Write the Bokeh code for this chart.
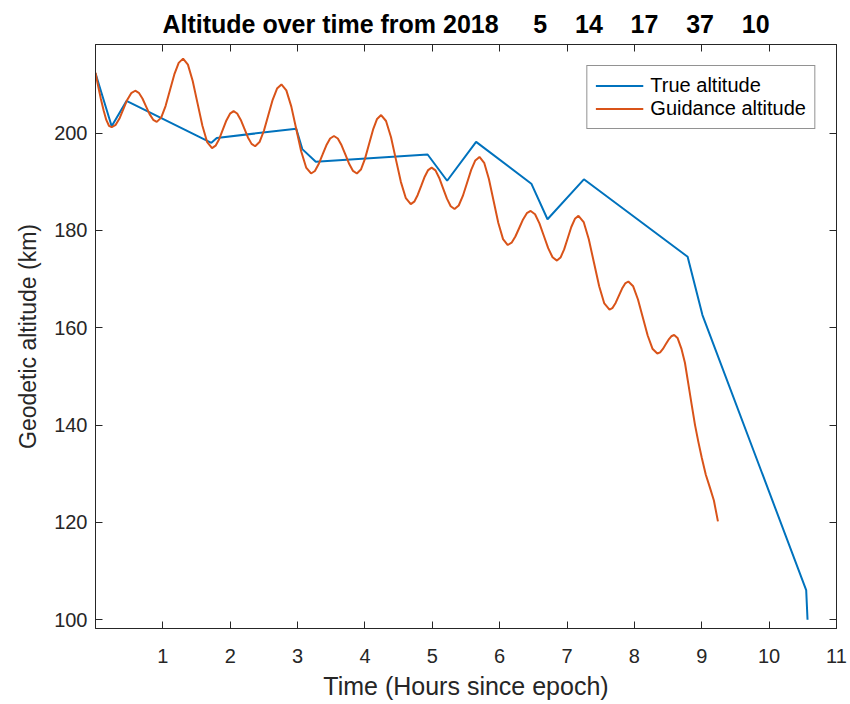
from bokeh.plotting import figure
from bokeh.models import (Range1d, LinearAxis, FixedTicker, Legend, LegendItem, Title)
from bokeh.embed import file_html
from bokeh.resources import INLINE

# ---------------- data ----------------
true_t = [0.00, 0.24, 0.46, 1.72, 1.80, 2.98, 3.07, 3.27, 4.93, 5.22, 5.65,
          6.47, 6.71, 7.25, 8.79, 9.01, 10.55, 10.57]
true_alt = [212.3, 201.4, 206.6, 198.0, 199.0, 200.9, 196.7, 194.1, 195.6, 190.2, 198.2,
            189.6, 182.3, 190.5, 174.6, 162.6, 106.1, 100.0]

guid_t = [0.00, 0.04, 0.08, 0.12, 0.16, 0.20, 0.24,
          0.30, 0.36, 0.415, 0.47, 0.53, 0.59,
          0.643, 0.697, 0.75, 0.803, 0.857, 0.91,
          0.975, 1.04, 1.105, 1.17, 1.235, 1.30,
          1.372, 1.443, 1.515, 1.587, 1.658, 1.73,
          1.783, 1.837, 1.89, 1.943, 1.997, 2.05,
          2.103, 2.157, 2.21, 2.263, 2.317, 2.37,
          2.435, 2.50, 2.565, 2.63, 2.695, 2.76,
          2.833, 2.907, 2.98, 3.053, 3.127, 3.20,
          3.257, 3.313, 3.37, 3.427, 3.483, 3.54,
          3.597, 3.653, 3.71, 3.767, 3.823, 3.88,
          3.94, 4.00, 4.06, 4.12, 4.18, 4.24,
          4.313, 4.387, 4.46, 4.533, 4.607, 4.68,
          4.732, 4.783, 4.835, 4.887, 4.938, 4.99,
          5.047, 5.103, 5.16, 5.217, 5.273, 5.33,
          5.392, 5.453, 5.515, 5.577, 5.638, 5.70,
          5.77, 5.84, 5.91, 5.98, 6.05, 6.12,
          6.177, 6.233, 6.29, 6.347, 6.403, 6.46,
          6.525, 6.59, 6.655, 6.72, 6.785, 6.85,
          6.903, 6.957, 7.01, 7.063, 7.117, 7.17,
          7.247, 7.323, 7.40, 7.477, 7.553, 7.63,
          7.677, 7.723, 7.77, 7.817, 7.863, 7.91,
          7.982, 8.053, 8.125, 8.197, 8.268, 8.34,
          8.382, 8.423, 8.465, 8.507, 8.548, 8.59,
          8.64, 8.70, 8.75, 8.80, 8.85, 8.90, 8.95, 9.00, 9.06, 9.12, 9.18, 9.24]
guid_alt = [212.4, 209.6, 207.0, 204.7, 202.7, 201.5, 201.2,
            201.7, 203.1, 204.95, 206.8, 208.2, 208.7,
            208.27, 207.1, 205.5, 203.9, 202.73, 202.3,
            203.17, 205.55, 208.8, 212.05, 214.43, 215.3,
            214.07, 210.7, 206.1, 201.5, 198.13, 196.9,
            197.41, 198.8, 200.7, 202.6, 203.99, 204.5,
            204.02, 202.7, 200.9, 199.1, 197.78, 197.3,
            198.15, 200.48, 203.65, 206.83, 209.15, 210.0,
            208.78, 205.43, 200.85, 196.28, 192.92, 191.7,
            192.21, 193.63, 195.55, 197.48, 198.88, 199.4,
            198.89, 197.48, 195.55, 193.63, 192.22, 191.7,
            192.5, 194.7, 197.7, 200.7, 202.9, 203.7,
            202.48, 199.13, 194.55, 189.98, 186.62, 185.4,
            185.9, 187.28, 189.15, 191.03, 192.4, 192.9,
            192.33, 190.78, 188.65, 186.53, 184.97, 184.4,
            185.12, 187.08, 189.75, 192.43, 194.38, 195.1,
            193.89, 190.58, 186.05, 181.53, 178.21, 177.0,
            177.47, 178.75, 180.5, 182.25, 183.53, 184.0,
            183.32, 181.45, 178.9, 176.35, 174.48, 173.8,
            174.42, 176.1, 178.4, 180.7, 182.38, 183.0,
            181.71, 178.18, 173.35, 168.53, 164.99, 163.7,
            164.09, 165.15, 166.6, 168.05, 169.11, 169.5,
            168.51, 165.8, 162.1, 158.4, 155.69, 154.7,
            154.95, 155.65, 156.6, 157.55, 158.25, 158.5,
            157.9, 155.6, 152.8, 148.5, 144.2, 140.0, 136.5, 133.3, 129.8, 127.2, 124.5, 120.2]

x_ticks = [1, 2, 3, 4, 5, 6, 7, 8, 9, 10, 11]
y_ticks = [100, 120, 140, 160, 180, 200]
title_text = "Altitude over time from 2018" + "\u00a0" * 5 + "5" + "\u00a0" * 4 + "14" \
             + "\u00a0" * 4 + "17" + "\u00a0" * 4 + "37" + "\u00a0" * 4 + "10"

# ---------------- style ----------------
FONT = "Liberation Sans"
AX = "#262626"
BLUE = "#0072BD"
ORANGE = "#D95319"

p = figure(width=850, height=704, output_backend="svg", toolbar_location=None,
           x_range=Range1d(0, 11), y_range=Range1d(98.2, 218.2),
           min_border_left=95, min_border_right=14, min_border_top=43, min_border_bottom=76,
           background_fill_color="white", border_fill_color="white")

p.title = Title(text=title_text, align="center", text_font=FONT, text_font_size="25px",
                text_font_style="bold", text_color="#000000", standoff=14)

p.xgrid.visible = False
p.ygrid.visible = False
p.outline_line_color = AX
p.outline_line_width = 1

for ax, ticks in ((p.xaxis[0], x_ticks), (p.yaxis[0], y_ticks)):
    ax.ticker = FixedTicker(ticks=ticks)
    ax.major_tick_in = 7
    ax.major_tick_out = 0
    ax.minor_tick_line_color = None
    ax.axis_line_color = AX
    ax.major_tick_line_color = AX
    ax.major_label_text_font = FONT
    ax.major_label_text_font_size = "20px"
    ax.major_label_text_color = AX
    ax.axis_label_text_font = FONT
    ax.axis_label_text_font_style = "normal"
    ax.axis_label_text_color = AX

p.xaxis.axis_label = "Time (Hours since epoch)"
p.yaxis.axis_label = "Geodetic altitude (km)"
p.xaxis.axis_label_text_font_size = "25px"
p.yaxis.axis_label_text_font_size = "23px"
p.xaxis.major_label_standoff = 20
p.yaxis.major_label_standoff = 8
p.xaxis.axis_label_standoff = 6
p.yaxis.axis_label_standoff = 10

top_axis = LinearAxis(ticker=FixedTicker(ticks=x_ticks), major_tick_in=7, major_tick_out=0,
                      minor_tick_line_color=None, major_label_text_font_size="1px",
                      major_label_text_color=None,
                      major_label_standoff=0, axis_line_color=AX, major_tick_line_color=AX)
right_axis = LinearAxis(ticker=FixedTicker(ticks=y_ticks), major_tick_in=7, major_tick_out=0,
                        minor_tick_line_color=None, major_label_text_font_size="1px",
                        major_label_text_color=None,
                        major_label_standoff=0, axis_line_color=AX, major_tick_line_color=AX)
p.add_layout(top_axis, "above")
p.add_layout(right_axis, "right")

r_true = p.line(true_t, true_alt, line_color=BLUE, line_width=2)
r_guid = p.line(guid_t, guid_alt, line_color=ORANGE, line_width=2)

legend = Legend(items=[LegendItem(label="True altitude", renderers=[r_true]),
                       LegendItem(label="Guidance altitude", renderers=[r_guid])],
                location="top_right", margin=21, padding=8, spacing=0,
                label_height=23, glyph_height=23, glyph_width=48, label_standoff=7,
                label_text_font=FONT, label_text_font_size="20px", label_text_color="#000000",
                border_line_color=AX, border_line_width=1, background_fill_alpha=1.0)
p.add_layout(legend)

open("out.html", "w").write(file_html(p, INLINE))
